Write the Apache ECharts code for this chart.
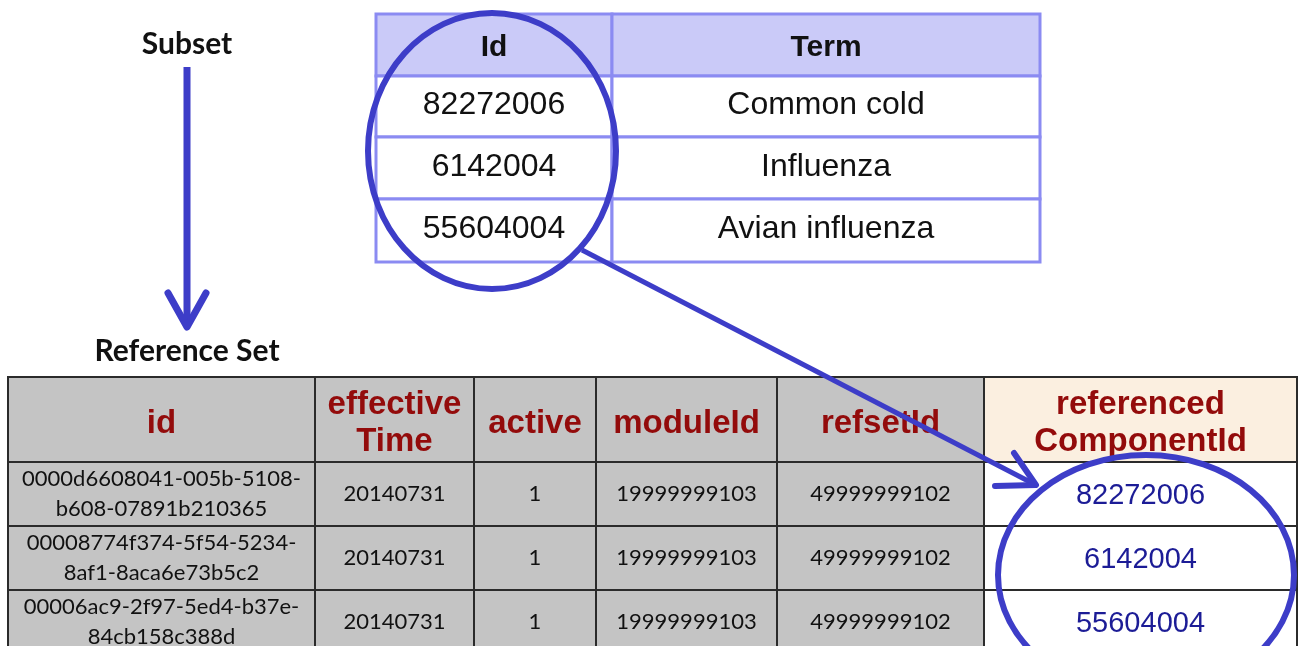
<!DOCTYPE html>
<html>
<head>
<meta charset="utf-8">
<script src="https://cdn.jsdelivr.net/npm/echarts@6/dist/echarts.min.js"></script>
<style>
html, body {margin: 0; padding: 0; background: #fff;}
#main {width: 1299px; height: 646px;}
</style>
</head>
<body>
<div id="main"></div>
<script>
// subset table
var subsetHeader = ['Id', 'Term'];
var subsetIds = ['82272006', '6142004', '55604004'];
var subsetTerms = ['Common cold', 'Influenza', 'Avian influenza'];

// reference set table
var refHeader = ['id', 'effective\nTime', 'active', 'moduleId', 'refsetId', 'referenced\nComponentId'];
var refIds = ['0000d6608041-005b-5108-b608-07891b210365', '00008774f374-5f54-5234-8af1-8aca6e73b5c2', '00006ac9-2f97-5ed4-b37e-84cb158c388d'];
var refTimes = ['20140731', '20140731', '20140731'];
var refActive = ['1', '1', '1'];
var refModules = ['19999999103', '19999999103', '19999999103'];
var refRefsets = ['49999999102', '49999999102', '49999999102'];
var refComponents = ['82272006', '6142004', '55604004'];

// column / row edges (px inside each table)
var topCols = [0, 236, 664];
var topRows = [0, 62, 123, 185, 248];
var refCols = [0, 307, 466, 588, 769, 976, 1289];
var refRows = [0, 85, 149, 213, 277];

var BLUE = '#3d3dc8';

// break long ids at hyphens, max 24 chars per line
function wrapId(s) {
    var parts = s.split('-'), lines = [], line = '';
    parts.forEach(function (p, i) {
        var tok = p + (i < parts.length - 1 ? '-' : '');
        if (line && line.length + tok.length > 24) { lines.push(line); line = tok; }
        else line += tok;
    });
    lines.push(line);
    return lines.join('\n');
}

// build cells
var topCells = [];
subsetHeader.forEach(function (h, c) {
    topCells.push({c: c, r: 0, text: h, fill: '#cacaf8', font: 'bold 30px "Liberation Sans"', color: '#111', dy: 3});
});
subsetIds.forEach(function (id, i) {
    topCells.push({c: 0, r: i + 1, text: id, fill: '#fff', font: '32px "Liberation Sans"', color: '#111', dy: -1});
    topCells.push({c: 1, r: i + 1, text: subsetTerms[i], fill: '#fff', font: '32px "Liberation Sans"', color: '#111', dy: -1});
});

var refCells = [];
refHeader.forEach(function (h, c) {
    refCells.push({c: c, r: 0, text: h, fill: c === 5 ? '#fbefe0' : '#c4c4c4',
        font: 'bold 33px "Liberation Sans"', color: '#930b0b', lh: 37, dy: 4});
});
var refColsData = [refIds.map(wrapId), refTimes, refActive, refModules, refRefsets];
for (var i = 0; i < 3; i++) {
    refColsData.forEach(function (col, c) {
        refCells.push({c: c, r: i + 1, text: col[i], fill: '#c4c4c4', font: '22px Lato', color: '#111', lh: 30});
    });
    refCells.push({c: 5, r: i + 1, text: refComponents[i], fill: '#fff', font: '29px "Liberation Sans"', color: '#1c1c96', dy: 2});
}

function cellRenderer(cells, cols, rows, stroke, lw) {
    return function (params, api) {
        var cell = cells[params.dataIndex];
        var p0 = api.coord([cols[cell.c], rows[cell.r]]);
        var p1 = api.coord([cols[cell.c + 1], rows[cell.r + 1]]);
        return {
            type: 'group',
            children: [{
                type: 'rect',
                shape: {x: p0[0], y: p0[1], width: p1[0] - p0[0], height: p1[1] - p0[1]},
                style: {fill: cell.fill, stroke: stroke, lineWidth: lw}
            }, {
                type: 'text',
                style: {
                    text: cell.text, x: (p0[0] + p1[0]) / 2, y: (p0[1] + p1[1]) / 2 + (cell.dy || 0),
                    align: 'center', verticalAlign: 'middle', font: cell.font,
                    fill: cell.color, lineHeight: cell.lh || 36
                }
            }]
        };
    };
}

var hidden = {show: false};
var myChart = echarts.init(document.getElementById('main'));
var option = {
    backgroundColor: '#fff',
    animation: false,
    grid: [
        {left: 376, top: 14, width: 664, height: 248},
        {left: 8, top: 377, width: 1289, height: 269}
    ],
    xAxis: [
        {type: 'value', gridIndex: 0, min: 0, max: 664, show: false, splitLine: hidden},
        {type: 'value', gridIndex: 1, min: 0, max: 1289, show: false, splitLine: hidden}
    ],
    yAxis: [
        {type: 'value', gridIndex: 0, min: 0, max: 248, inverse: true, show: false, splitLine: hidden},
        {type: 'value', gridIndex: 1, min: 0, max: 269, inverse: true, show: false, splitLine: hidden}
    ],
    series: [{
        type: 'custom', xAxisIndex: 0, yAxisIndex: 0,
        data: topCells.map(function (d) { return [d.c, d.r]; }),
        renderItem: cellRenderer(topCells, topCols, topRows, '#8b8bf2', 3)
    }, {
        type: 'custom', xAxisIndex: 1, yAxisIndex: 1,
        data: refCells.map(function (d) { return [d.c, d.r]; }),
        renderItem: cellRenderer(refCells, refCols, refRows, '#2b2b2b', 2)
    }],
    graphic: [
        {type: 'text', z: 100, style: {text: 'Subset', x: 187, y: 44, align: 'center', verticalAlign: 'middle', font: 'bold 30px Lato', fill: '#111'}},
        {type: 'text', z: 100, style: {text: 'Reference Set', x: 187, y: 351, align: 'center', verticalAlign: 'middle', font: 'bold 30px Lato', fill: '#111'}},
        {type: 'line', z: 100, shape: {x1: 187, y1: 67, x2: 187, y2: 326}, style: {stroke: BLUE, lineWidth: 7}},
        {type: 'polyline', z: 100, shape: {points: [[168, 293], [187, 327], [206, 293]]}, style: {stroke: BLUE, lineWidth: 7, fill: null, lineCap: 'round', lineJoin: 'round'}},
        {type: 'ellipse', z: 100, shape: {cx: 492, cy: 151, rx: 124, ry: 138}, style: {stroke: BLUE, lineWidth: 6, fill: null}},
        {type: 'ellipse', z: 100, shape: {cx: 1146, cy: 575, rx: 148, ry: 120}, style: {stroke: BLUE, lineWidth: 6, fill: null}},
        {type: 'line', z: 100, shape: {x1: 582, y1: 250, x2: 1034, y2: 484}, style: {stroke: BLUE, lineWidth: 5}},
        {type: 'polyline', z: 100, shape: {points: [[1014, 453], [1036, 485], [995, 486]]}, style: {stroke: BLUE, lineWidth: 6, fill: null, lineCap: 'round', lineJoin: 'round'}}
    ]
};
myChart.setOption(option);
</script>
</body>
</html>
